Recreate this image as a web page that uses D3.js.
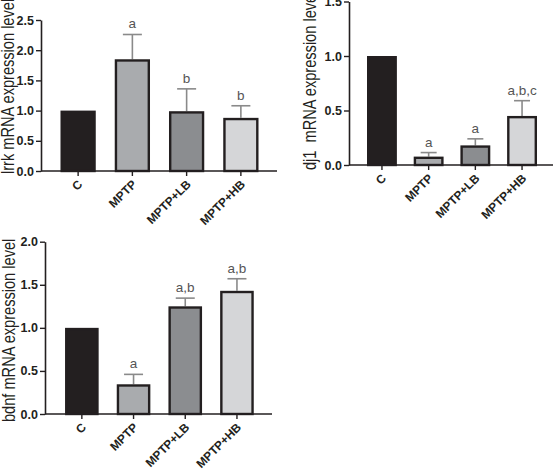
<!DOCTYPE html>
<html><head><meta charset="utf-8">
<script src="https://cdn.jsdelivr.net/npm/d3@7"></script>
<style>
body{margin:0;background:#fff;}
svg{display:block;font-family:"Liberation Sans",Arial,Helvetica,sans-serif;}
</style></head>
<body><svg id="c" width="554" height="471"></svg>
<script>
const categories = ["C","MPTP","MPTP+LB","MPTP+HB"];
const colors = ["#231f20","#a9abae","#8b8d90","#d5d6d8"];

const lrrkMean = [1.0, 1.85, 0.99, 0.88];
const lrrkErr  = [0, 0.41, 0.37, 0.20];
const lrrkSig  = ["", "a", "b", "b"];
const lrrkTicks = [0,0.5,1.0,1.5,2.0,2.5];

const dj1Mean = [1.0, 0.077, 0.18, 0.45];
const dj1Err  = [0, 0.037, 0.06, 0.14];
const dj1Sig  = ["", "a", "a", "a,b,c"];
const dj1Ticks = [0,0.5,1.0,1.5];

const bdnfMean = [1.0, 0.345, 1.25, 1.43];
const bdnfErr  = [0, 0.115, 0.095, 0.14];
const bdnfSig  = ["", "a", "a,b", "a,b"];
const bdnfTicks = [0,0.5,1.0,1.5,2.0];

const svg = d3.select("#c");
const dark = "#231f20";

function panel(o){
  const g = svg.append("g");
  const y = d3.scaleLinear().domain([0,o.ymax]).range([o.y0,o.yTop]);
  const x = d3.scaleBand().domain(categories).range([o.bx0,o.bx1]).paddingInner(o.pi).paddingOuter(o.pi/2);
  categories.forEach((c,i)=>{
    const v=o.mean[i], e=o.err[i];
    const cx = x(c)+x.bandwidth()/2;
    if(e>0){
      g.append("line").attr("x1",cx).attr("x2",cx).attr("y1",y(v)).attr("y2",y(v+e))
        .attr("stroke","#8a8a8a").attr("stroke-width",1.6);
      g.append("line").attr("x1",cx-o.cap/2).attr("x2",cx+o.cap/2).attr("y1",y(v+e)).attr("y2",y(v+e))
        .attr("stroke","#8a8a8a").attr("stroke-width",1.6);
    }
    g.append("rect").attr("x",x(c)+1.2).attr("width",x.bandwidth()-2.4)
      .attr("y",y(v)+1.2).attr("height",Math.max(0,y(0)-y(v)-1.2))
      .attr("fill",colors[i]).attr("stroke",dark).attr("stroke-width",2.4);
    if(o.sig[i]){
      g.append("text").attr("x",cx).attr("y",y(v+e)-6).attr("text-anchor","middle")
        .attr("font-size",13.5).attr("fill","#555").text(o.sig[i]);
    }
  });
  const ya = g.append("g").attr("transform",`translate(${o.ax},0)`)
    .call(d3.axisLeft(y).tickValues(o.ticks).tickFormat(d3.format(".1f")).tickSize(5).tickSizeOuter(0));
  ya.select(".domain").attr("stroke",dark).attr("stroke-width",1.6);
  ya.selectAll(".tick line").attr("stroke",dark).attr("stroke-width",1.4);
  ya.selectAll(".tick text").attr("font-size",12.5).attr("font-weight","bold").attr("fill",dark)
    .attr("font-family","Liberation Sans, Arial, sans-serif").attr("x",-7);
  const xa = g.append("g").attr("transform",`translate(0,${o.y0})`)
    .call(d3.axisBottom(x).tickSize(5).tickSizeOuter(0));
  xa.select(".domain").attr("d",`M${o.ax},0H${o.ax1}`).attr("stroke",dark).attr("stroke-width",1.6);
  xa.selectAll(".tick line").attr("stroke",dark).attr("stroke-width",1.4);
  xa.selectAll(".tick text").attr("font-size",12).attr("font-weight","bold").attr("fill",dark)
    .attr("font-family","Liberation Sans, Arial, sans-serif")
    .attr("text-anchor","end").attr("y",0).attr("dy",0)
    .attr("transform","translate(5,14) rotate(-45)");
  g.append("text").attr("transform",`translate(${o.lx},${o.ly}) scale(1.25,1) rotate(-90)`)
    .attr("text-anchor","start").attr("font-size",14.6).attr("fill",dark)
    .style("white-space","pre").text(o.label);
}

panel({mean:lrrkMean,err:lrrkErr,sig:lrrkSig,ticks:lrrkTicks,ymax:2.5,y0:171,yTop:20,
  ax:41,ax1:277,bx0:51,bx1:268,pi:0.35,cap:19,lx:14,ly:174,label:"lrrk mRNA expression level"});
panel({mean:dj1Mean,err:dj1Err,sig:dj1Sig,ticks:dj1Ticks,ymax:1.5,y0:165,yTop:1.5,
  ax:349,ax1:553,bx0:358.6,bx1:545.4,pi:0.36,cap:16,lx:316,ly:170,label:"dj1  mRNA expression level"});
panel({mean:bdnfMean,err:bdnfErr,sig:bdnfSig,ticks:bdnfTicks,ymax:2.0,y0:414,yTop:241.7,
  ax:45,ax1:272,bx0:56,bx1:262.8,pi:0.35,cap:19,lx:14.5,ly:422,label:"bdnf mRNA expression level"});
</script></body></html>
